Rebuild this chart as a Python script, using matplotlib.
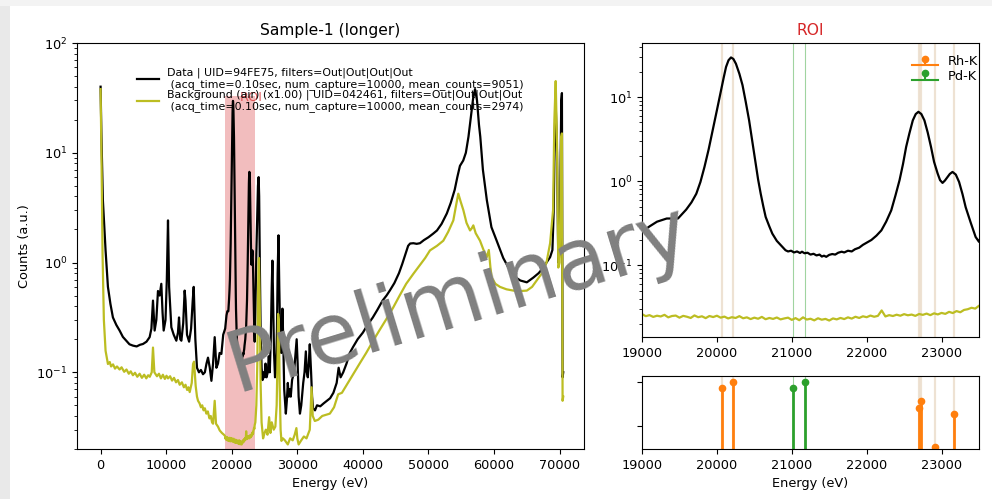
import matplotlib
matplotlib.use('Agg')
import matplotlib.pyplot as plt
from matplotlib.patches import Rectangle
import numpy as np

plt.rcParams['font.size'] = 9.3

# ---- data spectrum (black), outside ROI ----
data_low_e = [0, 120, 350, 760, 1120, 1500, 1880, 2400, 2900, 3400, 3920, 4400, 4930, 5500,
              6000, 6460, 7000, 7480, 7750, 7990, 8240, 8500, 8750, 9000, 9260, 9450, 9620,
              9900, 10100, 10280, 10450, 10790, 11150, 11550, 11800, 11960, 12150, 12320,
              12600, 12820, 12950, 13180, 13500, 13800, 14050, 14200, 14450, 14700, 15000,
              15300, 15620, 15900, 16150, 16380, 16650, 16900, 17150, 17400, 17660, 17900,
              18150, 18420, 18700]
data_low_counts = [40, 15, 3.7, 1.29, 0.6, 0.42, 0.316, 0.27, 0.24, 0.21, 0.194, 0.18, 0.175, 0.172,
                   0.178, 0.181, 0.19, 0.209, 0.25, 0.45, 0.24, 0.3, 0.55, 0.5, 0.64, 0.35, 0.24,
                   0.3, 0.7, 2.42, 0.6, 0.257, 0.22, 0.194, 0.23, 0.316, 0.2, 0.194,
                   0.28, 0.555, 0.45, 0.22, 0.19, 0.25, 0.45, 0.6, 0.2, 0.11, 0.1,
                   0.105, 0.096, 0.1, 0.12, 0.136, 0.11, 0.0836, 0.12, 0.209, 0.11, 0.12,
                   0.15, 0.147, 0.22]

data_high_e = [23600, 23750, 23900, 24000, 24100, 24180, 24280, 24400, 24550, 24700, 24850, 25000,
               25150, 25300, 25500, 25650, 25800, 25950, 26100, 26200, 26300, 26450, 26600, 26750,
               26900, 27000, 27130, 27250, 27400, 27550, 27730, 27850, 28000, 28250, 28400, 28550,
               28700, 28850, 29000, 29200, 29500, 29700, 29900, 30050, 30200, 30400, 30600, 30900,
               31100, 31300, 31450, 31600, 31750, 31900, 32100, 32250, 32400, 32700, 33000, 33500,
               34000, 34500, 35000, 35500, 36000, 36300, 36600, 37000, 37500, 38000, 38500, 39200,
               40000, 40700, 41500, 42200, 43000, 43600, 44100, 44800, 45500, 46000, 46500, 46900,
               47200, 47700, 48200, 48700, 49300, 50000, 50700, 51300, 52000, 52800, 53400, 54000,
               54400, 54800, 55300, 55700, 56100, 56500, 56800, 57100, 57400, 57700, 57900, 58300,
               58900, 59600, 60400, 61400, 62440, 63200, 64000, 65000, 66000, 66800, 67530, 68000,
               68550, 68900, 69100, 69250, 69400, 69600, 69800, 70000, 70250, 70350, 70450, 70550]
data_high_counts = [0.35, 1.2, 3.0, 5.0, 6.0, 4.0, 1.0, 0.25, 0.11, 0.085, 0.1, 0.09,
                    0.12, 0.09, 0.1, 0.14, 0.1, 0.2, 0.6, 1.04, 0.5, 0.15, 0.09, 0.1,
                    0.25, 0.8, 1.77, 0.6, 0.2, 0.15, 0.38, 0.2, 0.07, 0.042, 0.055, 0.08,
                    0.06, 0.07, 0.06, 0.085, 0.1, 0.14, 0.2, 0.12, 0.06, 0.042, 0.05, 0.08,
                    0.1, 0.155, 0.1, 0.09, 0.12, 0.18, 0.1, 0.06, 0.047, 0.045, 0.05, 0.049,
                    0.052, 0.055, 0.058, 0.065, 0.08, 0.11, 0.09, 0.1, 0.12, 0.15, 0.17, 0.2,
                    0.23, 0.27, 0.315, 0.37, 0.45, 0.5, 0.555, 0.65, 0.8, 0.97, 1.2, 1.42,
                    1.49, 1.5, 1.48, 1.5, 1.6, 1.7, 1.83, 1.96, 2.25, 2.8, 3.5, 4.6,
                    6.0, 7.6, 8.5, 10, 14, 22, 31, 38, 30, 18, 14, 7,
                    3.7, 2.1, 1.58, 1.1, 0.845, 0.74, 0.686, 0.66, 0.73, 0.8, 0.9, 1.0,
                    1.12, 1.3, 3, 15, 28, 10, 1.0, 1.2, 30, 35, 0.09, 0.1]

# ---- background spectrum (olive), outside ROI ----
bkg_low_e = [0, 150, 300, 500, 760, 1120, 1400, 1600, 1900, 2200, 2500, 2900, 3200, 3600, 3950,
             4300, 4600, 4930, 5250, 5600, 5950, 6300, 6650, 6970, 7250, 7500, 7800, 7990, 8200,
             8600, 8900, 9200, 9500, 9800, 10050, 10280, 10600, 10900, 11200, 11500, 11800,
             12060, 12400, 12700, 12950, 13200, 13400, 13590, 13900, 14100, 14250, 14500, 14700,
             14860, 15100, 15300, 15500, 15700, 15900, 16130, 16350, 16600, 16800, 17000, 17150,
             17400, 17600, 17900, 18170, 18500, 18800]
bkg_low_counts = [38, 8, 1.2, 0.3, 0.157, 0.119, 0.124, 0.113, 0.118, 0.108, 0.113, 0.106, 0.111,
                  0.101, 0.106, 0.097, 0.102, 0.094, 0.099, 0.091, 0.097, 0.089, 0.095, 0.088,
                  0.094, 0.091, 0.1, 0.168, 0.1, 0.092, 0.097, 0.088, 0.095, 0.087, 0.093, 0.088,
                  0.092, 0.084, 0.089, 0.081, 0.085, 0.077, 0.081, 0.073, 0.077, 0.069, 0.073,
                  0.066, 0.08, 0.119, 0.125, 0.075, 0.06, 0.055, 0.052, 0.048, 0.05, 0.045, 0.047,
                  0.042, 0.044, 0.038, 0.04, 0.035, 0.034, 0.055, 0.034, 0.032, 0.0295, 0.028,
                  0.027]

bkg_high_e = [23600, 23750, 23900, 24000, 24100, 24150, 24250, 24400, 24550, 24780, 25000, 25200,
              25450, 25700, 25900, 26100, 26400, 26650, 26850, 27000, 27070, 27180, 27300, 27450,
              27580, 27800, 28100, 28550, 28900, 29300, 29600, 29860, 30000, 30200, 30600, 31000,
              31400, 31700, 31900, 32170, 32350, 32670, 33200, 33800, 34400, 34960, 35600, 36230,
              36800, 37600, 38520, 39500, 40500, 41570, 42500, 43500, 44630, 45600, 46600, 47700,
              48700, 49500, 50230, 51300, 52260, 53000, 53790, 54200, 54550, 54900, 55320, 55800,
              56340, 56600, 56840, 57200, 57860, 58400, 58880, 59200, 59450, 59640, 60200, 60900,
              61900, 62950, 64000, 65000, 65800, 66500, 67300, 68000, 68550, 69000, 69200, 69400,
              69600, 69800, 70000, 70250, 70350, 70450, 70550]
bkg_high_counts = [0.035, 0.05, 0.12, 0.5, 1.0, 1.1, 0.5, 0.08, 0.035, 0.025, 0.028, 0.03,
                   0.027, 0.039, 0.028, 0.035, 0.03, 0.032, 0.05, 0.15, 0.34, 0.3, 0.08, 0.03,
                   0.0237, 0.025, 0.024, 0.022, 0.025, 0.024, 0.027, 0.031, 0.025, 0.022, 0.024, 0.026,
                   0.025, 0.028, 0.03, 0.073, 0.04, 0.036, 0.037, 0.04, 0.041, 0.042, 0.048, 0.063,
                   0.065, 0.078, 0.096, 0.12, 0.15, 0.194, 0.24, 0.3, 0.39, 0.5, 0.64, 0.79,
                   0.95, 1.1, 1.29, 1.42, 1.58, 1.9, 2.42, 3.3, 4.24, 3.6, 3.0, 2.3,
                   1.96, 2.05, 2.18, 1.85, 1.58, 1.3, 1.12, 1.3, 0.9, 0.73, 0.64, 0.6,
                   0.57, 0.555, 0.55, 0.555, 0.6, 0.686, 0.8, 1.0, 1.5, 3, 20, 45,
                   12, 0.9, 1.0, 14, 15, 0.055, 0.06]

# ---- ROI (19000-23500 eV) ----
roi_data_e = [19000, 19100, 19200, 19330, 19480, 19590, 19660, 19725, 19780, 19834, 19890, 19944,
              20000, 20055, 20090, 20122, 20155, 20188, 20220, 20254, 20300, 20342, 20385, 20430,
              20475, 20519, 20550, 20585, 20620, 20651, 20700, 20740, 20800, 20872, 20916, 20950,
              20990, 21030, 21070, 21110, 21136, 21170, 21210, 21250, 21290, 21330, 21370, 21401,
              21430, 21460, 21500, 21540, 21580, 21620, 21666, 21700, 21750, 21800, 21843, 21900,
              21950, 22063, 22130, 22196, 22260, 22328, 22385, 22439, 22485, 22527, 22570, 22616,
              22655, 22691, 22730, 22771, 22815, 22859, 22900, 22947, 22980, 23013, 23045, 23079,
              23110, 23146, 23190, 23234, 23280, 23322, 23390, 23455, 23500]
roi_data_counts = [0.25, 0.29, 0.33, 0.36, 0.36, 0.46, 0.56, 0.71, 0.98, 1.48, 2.4, 4.05,
                   7.0, 12.1, 17, 22.9, 27.5, 29.7, 28.5, 25, 19, 13.9, 8.8, 5.3,
                   2.9, 1.62, 1.05, 0.71, 0.5, 0.376, 0.29, 0.238, 0.195, 0.166, 0.151, 0.146,
                   0.149, 0.142, 0.146, 0.14, 0.145, 0.139, 0.141, 0.134, 0.137, 0.131, 0.134, 0.127,
                   0.13, 0.126, 0.133, 0.136, 0.134, 0.141, 0.145, 0.142, 0.149, 0.146, 0.155, 0.162,
                   0.175, 0.2, 0.225, 0.26, 0.33, 0.45, 0.68, 1.03, 1.6, 2.56, 3.7, 5.3,
                   6.3, 6.7, 6.3, 5.3, 3.8, 2.56, 1.7, 1.24, 1.03, 0.955, 1.02, 1.12,
                   1.22, 1.29, 1.2, 0.98, 0.7, 0.49, 0.32, 0.217, 0.19]

roi_bkg_e = list(range(19000, 23501, 50))
roi_bkg_counts = [0.0262, 0.0248, 0.0255, 0.0243, 0.0251, 0.0246, 0.0257, 0.0240, 0.0249, 0.0252,
                  0.0238, 0.0250, 0.0244, 0.0236, 0.0253, 0.0241, 0.0247, 0.0235, 0.0249, 0.0242,
                  0.0251, 0.0238, 0.0245, 0.0233, 0.0241, 0.0236, 0.0248, 0.0234, 0.0240, 0.0229,
                  0.0238, 0.0231, 0.0243, 0.0228, 0.0236, 0.0230, 0.0239, 0.0227, 0.0233, 0.0238,
                  0.0224, 0.0235, 0.0222, 0.0240, 0.0226, 0.0231, 0.0221, 0.0234, 0.0225, 0.0230,
                  0.0220, 0.0233, 0.0227, 0.0236, 0.0229, 0.0240, 0.0232, 0.0244, 0.0236, 0.0247,
                  0.0241, 0.0252, 0.0244, 0.0250, 0.0290, 0.0246, 0.0255, 0.0249, 0.0258, 0.0251,
                  0.0262, 0.0254, 0.0259, 0.0250, 0.0263, 0.0257, 0.0266, 0.0255, 0.0268, 0.0260,
                  0.0271, 0.0264, 0.0279, 0.0270, 0.0285, 0.0276, 0.0294, 0.0300, 0.0312, 0.0305,
                  0.0330]

roi_lo, roi_hi = 19000, 23500

# emission lines (eV) and relative intensities
rh_lines = [20074, 20216, 22699, 22724, 22908, 23172]
rh_rel = [0.53, 1.0, 0.068, 0.138, 0.00105, 0.034]
pd_lines = [21020, 21177]
pd_rel = [0.53, 1.0]

legend_data = ('Data | UID=94FE75, filters=Out|Out|Out|Out\n'
               ' (acq_time=0.10sec, num_capture=10000, mean_counts=9051)')
legend_bkg = ('Background (air) (x1.00) | UID=042461, filters=Out|Out|Out|Out\n'
              ' (acq_time=0.10sec, num_capture=10000, mean_counts=2974)')

data_e = data_low_e + roi_data_e + data_high_e
data_counts = data_low_counts + roi_data_counts + data_high_counts
bkg_e = bkg_low_e + roi_bkg_e + bkg_high_e
bkg_counts = bkg_low_counts + roi_bkg_counts + bkg_high_counts

fig = plt.figure(figsize=(9.92, 4.99), dpi=100)
# screenshot edge
fig.add_artist(Rectangle((0, 0), 10 / 992, 1, transform=fig.transFigure, color='#e9e9e9', lw=0))
fig.add_artist(Rectangle((0, 1 - 6 / 499), 1, 6 / 499, transform=fig.transFigure, color='#f3f3f3', lw=0))

ax = fig.add_axes([0.0776, 0.1002, 0.511, 0.8136])
ax_roi = fig.add_axes([0.6472, 0.3246, 0.3397, 0.589])
ax_ln = fig.add_axes([0.6472, 0.1002, 0.3397, 0.1463])

# main spectrum
ax.plot(data_e, data_counts, color='black', lw=1.6, label=legend_data)
ax.plot(bkg_e, bkg_counts, color='#bcbd22', lw=1.6, label=legend_bkg)
ax.set_yscale('log')
ax.set_xlim(-3600, 73700)
ax.set_ylim(0.02, 100)
roi_max = max(roi_data_counts)
ax.fill_between([roi_lo, roi_hi], 0.01, roi_max * 1.1, color='tab:red', alpha=0.3, lw=0)
ax.text((roi_lo + roi_hi) / 2, roi_max, 'ROI', color='tab:red', alpha=0.7)
ax.set_xlabel('Energy (eV)')
ax.set_ylabel('Counts (a.u.)')
ax.set_title('Sample-1 (longer)', fontsize=11.2)
ax.legend(loc='upper center', bbox_to_anchor=(0.5, 0.965), frameon=False, fontsize=7.9,
          labelspacing=-0.08)

# ROI zoom
ax_roi.plot(data_e, data_counts, color='black', lw=1.6)
ax_roi.plot(bkg_e, bkg_counts, color='#bcbd22', lw=1.6)
ax_roi.set_yscale('log')
ax_roi.set_xlim(roi_lo, roi_hi)
ax_roi.set_ylim(0.014, 44)
ax_roi.set_xticks([19000, 20000, 21000, 22000, 23000])
ax_roi.set_title('ROI', color='tab:red', fontsize=11.2)

# emission lines
for a in (ax_roi, ax_ln):
    for e in rh_lines:
        a.axvline(e, color='#c8a070', alpha=0.3, lw=1.6, zorder=0)
    for e in pd_lines:
        a.axvline(e, color='tab:green', alpha=0.45, lw=0.8, zorder=0)

st_rh = ax_ln.stem(rh_lines, rh_rel, linefmt='C1-', markerfmt='C1o', basefmt='C1-',
                   bottom=1e-6, label='Rh-K')
st_pd = ax_ln.stem(pd_lines, pd_rel, linefmt='C2-', markerfmt='C2o', basefmt='C2-',
                   bottom=1e-6, label='Pd-K')
for st in (st_rh, st_pd):
    st.markerline.set_markersize(4.5)
    plt.setp(st.stemlines, linewidth=2)
ax_ln.set_yscale('log')
ax_ln.set_xlim(roi_lo, roi_hi)
ax_ln.set_ylim(0.00085, 1.95)
ax_ln.set_xticks([19000, 20000, 21000, 22000, 23000])
ax_ln.tick_params(axis='y', which='both', labelleft=False)
ax_ln.set_xlabel('Energy (eV)')

ax_roi.legend(handles=[st_rh, st_pd], loc='upper right', bbox_to_anchor=(1.032, 1.0),
              frameon=False, labelspacing=0.15)

fig.text(0.462, 0.40, 'Preliminary', rotation=17, ha='center', va='center',
         fontsize=61, color='#808080', zorder=10)

fig.savefig('out.png', dpi=100)
